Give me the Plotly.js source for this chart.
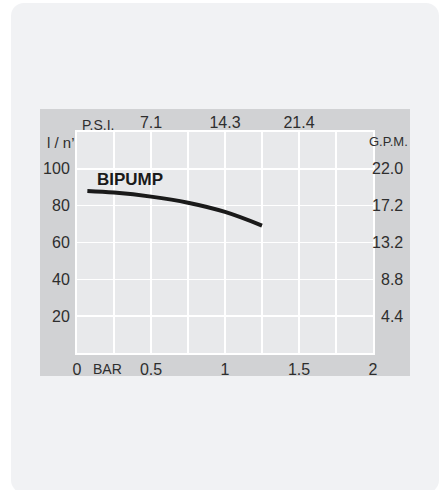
<!DOCTYPE html>
<html>
<head>
<meta charset="utf-8">
<script src="https://cdn.plot.ly/plotly-3.0.1.min.js"></script>
<style>
  html, body { margin: 0; padding: 0; background: #ffffff; }
  #card { position: absolute; left: 11px; top: 3px; width: 428px; height: 490px; border-radius: 13px; background: #f1f2f4; }
  #chart { position: absolute; left: 0; top: 0; width: 440px; height: 490px; }
</style>
</head>
<body>
<div id="card"></div>
<div id="chart"></div>
<script>
// Pump curve data: pressure (bar) vs flow (l/min)
const pressureBar = [0.07, 0.25, 0.5, 0.75, 1.0, 1.25];
const flowLpm = [88, 87.1, 84.9, 81.6, 76.6, 69.2];

// Bottom axis ticks (bar)
const barTicks = [0, 0.5, 1, 1.5, 2];
const barTickText = ['0', '0.5', '1', '1.5', '2'];
// Top axis ticks (psi)
const psiTickVals = [0.5, 1, 1.5];
const psiTickText = ['7.1', '14.3', '21.4'];
// Left axis ticks (l/min)
const lpmTicks = [20, 40, 60, 80, 100];
// Right axis ticks (GPM)
const gpmTickText = ['4.4', '8.8', '13.2', '17.2', '22.0'];

const seriesName = 'BIPUMP';

const txt = '#2e2e2e';
const fnt = 'Liberation Sans, Arial, sans-serif';
const numSize = 16;

const traces = [
  {
    x: pressureBar, y: flowLpm, type: 'scatter', mode: 'lines',
    line: { color: '#1a1a1a', width: 4, shape: 'spline' },
    hoverinfo: 'skip', showlegend: false
  },
  {
    x: [0, 2], y: [0, 0], xaxis: 'x2', yaxis: 'y', type: 'scatter', mode: 'markers',
    marker: { opacity: 0 }, hoverinfo: 'skip', showlegend: false
  }
];

const annotations = [];
annotations.push({ text: "l / n’", xref: 'paper', x: 0, xanchor: 'right', xshift: 0,
  yref: 'y', y: 114.1, yanchor: 'middle', showarrow: false, font: { family: fnt, size: 15, color: txt } });
annotations.push({ text: 'G.P.M.', xref: 'paper', x: 1.125, xanchor: 'right',
  yref: 'y', y: 114.6, yanchor: 'middle', showarrow: false, font: { family: fnt, size: 13, color: txt } });
for (let i = 0; i < lpmTicks.length; i++) {
  annotations.push({ text: gpmTickText[i], xref: 'paper', x: 1.107, xanchor: 'right',
    yref: 'y', y: lpmTicks[i], yanchor: 'middle', showarrow: false, font: { family: fnt, size: numSize, color: txt } });
}
annotations.push({ text: 'P.S.I.', xref: 'x', x: 0.142, xanchor: 'center',
  yref: 'paper', y: 1.0317, yanchor: 'middle', showarrow: false, font: { family: fnt, size: 14, color: txt } });
annotations.push({ text: 'BAR', xref: 'x', x: 0.203, xanchor: 'center',
  yref: 'paper', y: -0.072, yanchor: 'middle', showarrow: false, font: { family: fnt, size: 14, color: txt } });
annotations.push({ text: '<b>' + seriesName + '</b>', xref: 'x', x: 0.36, xanchor: 'center',
  yref: 'y', y: 94, yanchor: 'middle', showarrow: false, font: { family: fnt, size: 17, color: '#1a1a1a' } });

const layout = {
  width: 440, height: 490,
  margin: { l: 77, r: 67, t: 132, b: 137, pad: 0 },
  paper_bgcolor: 'rgba(0,0,0,0)',
  plot_bgcolor: 'rgba(0,0,0,0)',
  font: { family: fnt, color: txt, size: numSize },
  showlegend: false,
  shapes: [
    { type: 'rect', xref: 'paper', yref: 'paper', x0: -0.125, x1: 1.125, y0: -0.104, y1: 1.104,
      fillcolor: '#d1d2d4', line: { width: 0 }, layer: 'below' },
    { type: 'rect', xref: 'paper', yref: 'paper', x0: 0, x1: 1, y0: 0, y1: 1,
      fillcolor: '#e8e9eb', line: { width: 0 }, layer: 'below' }
  ],
  xaxis: {
    range: [0, 2], tickmode: 'array', tickvals: barTicks, ticktext: barTickText,
    showgrid: true, gridcolor: '#ffffff', gridwidth: 1.5,
    minor: { tickmode: 'linear', tick0: 0, dtick: 0.25, showgrid: true, gridcolor: '#ffffff', gridwidth: 1.5, ticks: '' },
    zeroline: false, showline: true, mirror: true, linecolor: '#ffffff', linewidth: 2,
    ticks: '', ticklabelstandoff: 1, tickfont: { family: fnt, size: numSize, color: txt }, fixedrange: true
  },
  xaxis2: {
    overlaying: 'x', side: 'top', matches: 'x', range: [0, 2],
    tickmode: 'array', tickvals: psiTickVals, ticktext: psiTickText,
    showgrid: false, zeroline: false, showline: false, ticks: '', ticklabelstandoff: 0,
    tickfont: { family: fnt, size: numSize, color: txt }, fixedrange: true
  },
  yaxis: {
    range: [0, 120], tickmode: 'array', tickvals: lpmTicks,
    showgrid: true, gridcolor: '#ffffff', gridwidth: 1.5,
    zeroline: false, showline: true, mirror: true, linecolor: '#ffffff', linewidth: 2,
    ticks: '', ticklabelstandoff: 2, tickfont: { family: fnt, size: numSize, color: txt }, fixedrange: true
  },
  annotations: annotations
};

Plotly.newPlot('chart', traces, layout, { displayModeBar: false, staticPlot: true });
</script>
</body>
</html>
